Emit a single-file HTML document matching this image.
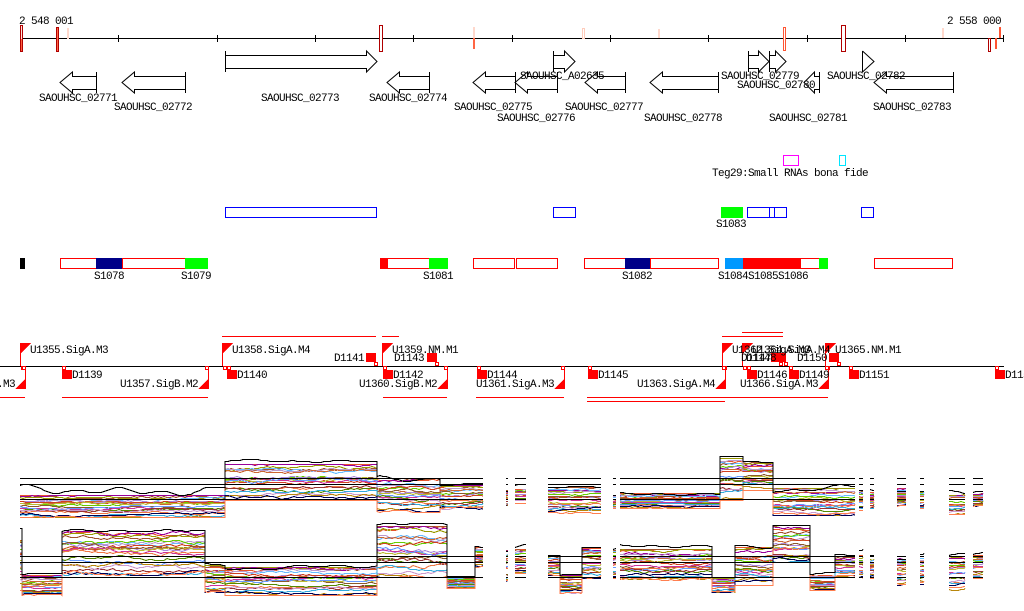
<!DOCTYPE html>
<html><head><meta charset="utf-8"><style>
html,body{margin:0;padding:0;background:#fff;}
svg{display:block;}
text{font-family:"Liberation Mono",monospace;font-size:11px;letter-spacing:-0.6px;fill:#000;}
</style></head><body>
<svg id="s" width="1024" height="611" viewBox="0 0 1024 611" xmlns="http://www.w3.org/2000/svg">
<rect width="1024" height="611" fill="#fff"/>
<!-- top axis -->
<g shape-rendering="crispEdges">
<line x1="20" y1="38.5" x2="1003" y2="38.5" stroke="#000"/>
<g stroke="#000">
<line x1="20.5" y1="35" x2="20.5" y2="42"/><line x1="118.5" y1="35" x2="118.5" y2="42"/><line x1="217.5" y1="35" x2="217.5" y2="42"/><line x1="315.5" y1="35" x2="315.5" y2="42"/><line x1="413.5" y1="35" x2="413.5" y2="42"/><line x1="512.5" y1="35" x2="512.5" y2="42"/><line x1="610.5" y1="35" x2="610.5" y2="42"/><line x1="708.5" y1="35" x2="708.5" y2="42"/><line x1="807.5" y1="35" x2="807.5" y2="42"/><line x1="905.5" y1="35" x2="905.5" y2="42"/><line x1="1003.5" y1="35" x2="1003.5" y2="42"/>
</g>
<rect x="20" y="25" width="3" height="14" fill="#ffe0d8"/><rect x="20" y="39" width="3" height="13" fill="#ff6040"/><rect x="20.5" y="25.5" width="2" height="26" fill="none" stroke="#b00000"/>
<rect x="56.5" y="27.5" width="2" height="24" fill="#ff6644" stroke="#b00000"/>
<rect x="67" y="28" width="2" height="11" fill="#ffd8cc"/>
<rect x="379.5" y="25.5" width="3" height="26" fill="#fff" stroke="#b00000"/>
<rect x="473" y="27" width="2" height="11" fill="#ffd8cc"/><rect x="473" y="38" width="2" height="11" fill="#ff6644"/>
<rect x="582.5" y="28.5" width="2" height="10" fill="#fff" stroke="#ffccbb"/>
<rect x="658" y="29" width="2" height="9" fill="#ffd8cc"/>
<rect x="783.5" y="27.5" width="2" height="23" fill="#fff" stroke="#ff5533"/>
<rect x="841.5" y="25.5" width="4" height="26" fill="#fff" stroke="#b00000"/>
<rect x="942" y="28" width="2" height="10" fill="#ffd8cc"/>
<rect x="988.5" y="38.5" width="2" height="13" fill="#fff" stroke="#b00000"/>
<rect x="995.5" y="38.5" width="1" height="10" fill="#fff" stroke="#ff5533"/>
<rect x="999.5" y="27.5" width="1" height="10" fill="#fff" stroke="#ff5533"/>
</g>
<text x="19" y="24">2 548 001</text>
<text x="947" y="24">2 558 000</text>

<!-- genes -->
<g fill="none" stroke="#000" stroke-width="1">
<path d="M225.5 51V72M225.5 55.5H366.5V51L377 61.5L366.5 72V68.5H225.5"/>
<path d="M553.5 51V72M553.5 55.5H564.5V51L575 61.5L564.5 72V68.5H553.5"/>
<path d="M748.5 51V72M748.5 55.5H758.5V51L769 61.5L758.5 72V68.5H748.5"/>
<path d="M769.5 51V72M769.5 55.5H775.5V51L786 61.5L775.5 72V68.5H769.5"/>
<path d="M862.5 51V72M862.5 51L874 61.5L862.5 72"/>
<path d="M96.5 72V93M96.5 76.5H72.5V72L60 82.5L72.5 93V89.5H96.5"/>
<path d="M185.5 72V93M185.5 76.5H134.5V72L122 82.5L134.5 93V89.5H185.5"/>
<path d="M429.5 72V93M429.5 76.5H399.5V72L387 82.5L399.5 93V89.5H429.5"/>
<path d="M515.5 72V93M515.5 76.5H485.5V72L473 82.5L485.5 93V89.5H515.5"/>
<path d="M557.5 72V93M557.5 76.5H527.5V72L515 82.5L527.5 93V89.5H557.5"/>
<path d="M625.5 72V93M625.5 76.5H597.5V72L585 82.5L597.5 93V89.5H625.5"/>
<path d="M718.5 72V93M718.5 76.5H662.5V72L650 82.5L662.5 93V89.5H718.5"/>
<path d="M819.5 72V93M819.5 76.5H814.5V72L804 82.5L814.5 93V89.5H819.5"/>
<path d="M953.5 72V93M953.5 76.5H886.5V72L874 82.5L886.5 93V89.5H953.5"/>
</g>
<text x="39" y="101">SAOUHSC_02771</text>
<text x="114" y="110">SAOUHSC_02772</text>
<text x="261" y="101">SAOUHSC_02773</text>
<text x="369" y="101">SAOUHSC_02774</text>
<text x="454" y="110">SAOUHSC_02775</text>
<text x="497" y="121">SAOUHSC_02776</text>
<text x="520" y="79">SAOUHSC_A02635</text>
<text x="565" y="110">SAOUHSC_02777</text>
<text x="644" y="121">SAOUHSC_02778</text>
<text x="721" y="79">SAOUHSC_02779</text>
<text x="737" y="88">SAOUHSC_02780</text>
<text x="769" y="121">SAOUHSC_02781</text>
<text x="827" y="79">SAOUHSC_02782</text>
<text x="873" y="110">SAOUHSC_02783</text>

<!-- Teg29 -->
<g shape-rendering="crispEdges" fill="none">
<rect x="783.5" y="155.5" width="15" height="10" stroke="#ff00ff"/>
<rect x="839.5" y="155.5" width="6" height="10" stroke="#00e5ff"/>
</g>
<text x="712" y="176">Teg29:Small RNAs bona fide</text>

<!-- blue row -->
<g shape-rendering="crispEdges">
<g fill="none" stroke="#0000ff">
<rect x="225.5" y="207.5" width="151" height="10"/>
<rect x="553.5" y="207.5" width="22" height="10"/>
<rect x="747.5" y="207.5" width="22" height="10"/>
<rect x="769.5" y="207.5" width="5" height="10"/>
<rect x="774.5" y="207.5" width="12" height="10"/>
<rect x="861.5" y="207.5" width="12" height="10"/>
</g>
<rect x="721" y="207" width="22" height="11" fill="#00ff00"/>
</g>
<text x="716" y="227">S1083</text>

<!-- red row -->
<g shape-rendering="crispEdges">
<rect x="20" y="258" width="5" height="11" fill="#000"/>
<g fill="none" stroke="#ff0000">
<rect x="60.5" y="258.5" width="62" height="10"/>
<rect x="122.5" y="258.5" width="63" height="10"/>
<rect x="380.5" y="258.5" width="49" height="10"/>
<rect x="473.5" y="258.5" width="41" height="10"/>
<rect x="516.5" y="258.5" width="41" height="10"/>
<rect x="584.5" y="258.5" width="41" height="10"/>
<rect x="650.5" y="258.5" width="68" height="10"/>
<rect x="743.5" y="258.5" width="76" height="10"/>
<rect x="874.5" y="258.5" width="78" height="10"/>
</g>
<rect x="96" y="258" width="26" height="11" fill="#000088"/>
<rect x="185" y="258" width="23" height="11" fill="#00ff00"/>
<rect x="380" y="258" width="8" height="11" fill="#ff0000"/>
<rect x="429" y="258" width="19" height="11" fill="#00ff00"/>
<rect x="625" y="258" width="25" height="11" fill="#000088"/>
<rect x="725" y="258" width="18" height="11" fill="#0099ff"/>
<rect x="743" y="258" width="58" height="11" fill="#ff0000"/>
<rect x="819" y="258" width="9" height="11" fill="#00ff00"/>
</g>
<text x="94" y="279">S1078</text>
<text x="181" y="279">S1079</text>
<text x="423" y="279">S1081</text>
<text x="622" y="279">S1082</text>
<text x="718" y="279">S1084S1085S1086</text>

<!-- promoter row -->
<g shape-rendering="crispEdges">
<line x1="0" y1="366.5" x2="1004" y2="366.5" stroke="#000"/>
<g stroke="#ff0000">
<line x1="222" y1="336.5" x2="376" y2="336.5"/>
<line x1="382" y1="336.5" x2="399" y2="336.5"/>
<line x1="722" y1="336.5" x2="783" y2="336.5"/>
<line x1="742" y1="332.5" x2="783" y2="332.5"/>
<line x1="0" y1="397.5" x2="25" y2="397.5"/>
<line x1="62" y1="397.5" x2="208" y2="397.5"/>
<line x1="383" y1="397.5" x2="447" y2="397.5"/>
<line x1="476" y1="397.5" x2="564" y2="397.5"/>
<line x1="587" y1="397.5" x2="828" y2="397.5"/>
<line x1="587" y1="401.5" x2="725" y2="401.5"/>
</g>
<g id="prom"></g>
</g>
<g id="promtext"></g>

<!-- expression -->
<g id="expr" shape-rendering="crispEdges"></g>
</svg>
<script>
(function(){
var prom="",pt="";
[[20,"U1355.SigA.M3"],[222,"U1358.SigA.M4"],[382,"U1359.NM.M1"],[722,"U1362.SigA.M3"],[742,"U1364.SigA.M4"],[825,"U1365.NM.M1"]].forEach(function(a){
 var x=a[0];
 prom+='<line x1="'+(x+0.5)+'" y1="343" x2="'+(x+0.5)+'" y2="366" stroke="#f00"/>';
 prom+='<polygon points="'+x+',343 '+(x+11)+',343 '+x+',354" fill="#f00"/>';
 prom+='<rect x="'+(x+1.5)+'" y="366.5" width="3" height="3" fill="#fff" stroke="#f00"/>';
 pt+='<text x="'+(x+10)+'" y="353">'+a[1]+'</text>';
});
[[25,"U1354.SigA.M3"],[208,"U1357.SigB.M2"],[447,"U1360.SigB.M2"],[564,"U1361.SigA.M3"],[725,"U1363.SigA.M4"],[828,"U1366.SigA.M3"]].forEach(function(a){
 var x=a[0];
 prom+='<line x1="'+(x+0.5)+'" y1="366" x2="'+(x+0.5)+'" y2="389" stroke="#f00"/>';
 prom+='<polygon points="'+(x+1)+',378 '+(x+1)+',389 '+(x-10)+',389" fill="#f00"/>';
 prom+='<rect x="'+(x-2.5)+'" y="366.5" width="3" height="3" fill="#fff" stroke="#f00"/>';
 pt+='<text x="'+(x-10)+'" y="387" text-anchor="end">'+a[1]+'</text>';
});
[[62,"D1139"],[227,"D1140"],[383,"D1142"],[477,"D1144"],[588,"D1145"],[747,"D1146"],[789,"D1149"],[849,"D1151"],[995,"D1152"]].forEach(function(a){
 var x=a[0];
 prom+='<rect x="'+(x+0.5)+'" y="366.5" width="3" height="3" fill="#fff" stroke="#f00"/>';
 prom+='<rect x="'+x+'" y="370" width="10" height="9" fill="#f00"/>';
 pt+='<text x="'+(x+10)+'" y="378">'+a[1]+'</text>';
});
[[366,"D1141",-1],[427,"D1143",394],[771,"D1147",741],[776,"D1148",746],[829,"D1150",-1]].forEach(function(a){
 var x=a[0];
 prom+='<rect x="'+x+'" y="353" width="10" height="9" fill="#f00"/>';
 prom+='<line x1="'+(x+9.5)+'" y1="362" x2="'+(x+9.5)+'" y2="366" stroke="#f00"/>';
 prom+='<rect x="'+(x+8.5)+'" y="362.5" width="3" height="3" fill="#fff" stroke="#f00"/>';
 if(a[2]<0) pt+='<text x="'+(x-2)+'" y="361" text-anchor="end">'+a[1]+'</text>';
 else pt+='<text x="'+a[2]+'" y="361">'+a[1]+'</text>';
});
document.getElementById("prom").innerHTML=prom;
document.getElementById("promtext").innerHTML=pt;

var pal=['#e8552b','#a0522d','#9a9a00','#990099','#66bbff','#bb99cc','#66cc00','#cc6633','#aa88dd','#d04020','#8b5a2b','#bbbb33','#cc3399','#6699ff','#ee7744','#558800','#993333','#cc99cc','#33aadd','#b8860b','#000055','#ff7f50'];
function rng(seed){return function(){seed=(seed*1664525+1013904223)>>>0;return seed/4294967296;};}
function build(segs,refs,N,seed){
 var R=rng(seed);
 var groups=[],cur=null;
 segs.forEach(function(s){ if(cur&&cur[cur.length-1][1]===s[0]) cur.push(s); else {cur=[s];groups.push(cur);} });
 var out='';
 function path(g,fn,col){
  var d='',first=true;
  g.forEach(function(s,k){
   var xs=[];for(var x=s[0];x<s[1];x+=3)xs.push(x);xs.push(s[1]);
   xs.forEach(function(x){var y=fn(s,k,x);d+=(first?'M':'L')+x+' '+(Math.round(y)+0.5)+' ';first=false;});
  });
  return '<path d="'+d+'" stroke="'+col+'" fill="none" stroke-width="1"/>';
 }
 for(var i=0;i<N;i++){
  var base=Math.pow(i/(N-1),1.1);
  groups.forEach(function(g){
   var w=0;var offs=g.map(function(){return (R()-0.5)*0.25;});
   out+=path(g,function(s,k,x){w+=(R()-0.5)*0.06;w*=0.94;var f=Math.min(1,Math.max(0,base+offs[k]+w));return s[2]+f*(s[3]-s[2]);},pal[i%pal.length]);
  });
 }
 groups.forEach(function(g){
  var p1=R()*6.28,p2=R()*6.28,p3=R()*6.28;
  out+=path(g,function(s,k,x){var amp=(s[5]===undefined?1:s[5]);var b=(s[4]!==undefined)?s[4]:s[2]-1;
    var wv=Math.sin(x/7+p1)*0.35+Math.sin(x/19+p2)*0.45+Math.sin(x/43+p3)*0.5;return b+wv*4*amp;},'#000');
 });
 groups.forEach(function(g){
  var x0=g[0][0],x1=g[g.length-1][1];
  refs.forEach(function(y){out+='<line x1="'+x0+'" y1="'+(y+0.5)+'" x2="'+x1+'" y2="'+(y+0.5)+'" stroke="#000"/>';});
 });
 return out;
}
var p1=[[20,225,495,517,489,1.5],[225,377,464,500,461,0.4],[377,440,478,512,476,1],[440,483,485,510,484,0.4],
 [506,508,490,505],[515,526,488,503],
 [548,601,487,513,486,0.4],
 [613,616,495,508],
 [620,720,493,508,494,0.4],[720,743,458,500,456,0.3],[743,773,462,490,461,0.3],[773,855,488,515,487,1],
 [859,863,490,510],[870,874,492,509],[897,906,488,506],[920,924,492,508],[949,965,494,514],[973,983,493,506]];
var p2=[[20,22,540,590,528,0],[22,62,575,595,573,0.3],[62,205,531,575,531,0.5],[205,225,565,595,564,0.3],[225,377,567,595,566,0.8],[377,447,526,577,524,0.3],[447,475,577,588,576,0.3],[475,483,547,568,546,0.3],
 [506,508,550,582],[515,526,549,575],
 [548,560,555,575,554,0.3],[560,582,575,593,574,0.3],[582,601,548,578,547,0.3],
 [613,616,550,578],
 [620,712,549,580,546,0.5],[712,735,578,593,577,0.3],[735,773,547,585,545,0.6],[773,810,526,562,524,0.3],[810,835,575,590,573,0.3],[835,855,556,577,555,0.3],
 [859,863,555,578],[870,874,556,578],[897,906,556,585],[920,924,556,584],[949,965,557,590],[973,983,555,578]];
document.getElementById("expr").innerHTML=build(p1,[478,484,499],22,12345)+build(p2,[556,562,577],22,67890);
})();
</script>
</body></html>
